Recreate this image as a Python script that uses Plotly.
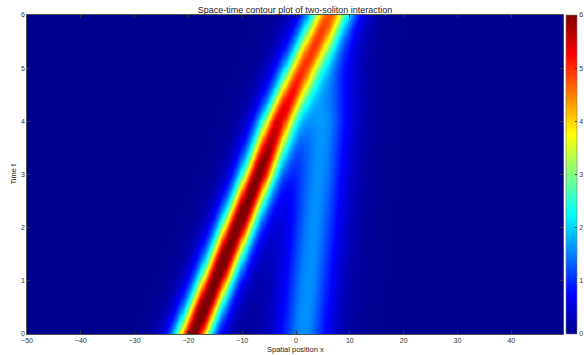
import numpy as np
import plotly.graph_objects as go

# Keyframes (time t -> soliton parameters)
t_key = [0, 1, 2, 3, 4, 5, 6]
big_center = [-19.2, -15.1, -11.1, -7.1, -3.4, 1.1, 6.0]
big_amp = [6.3, 6.3, 6.3, 6.1, 5.4, 4.6, 4.2]
big_k = [0.33, 0.33, 0.33, 0.33, 0.32, 0.30, 0.28]
small_center = [1.3, 2.25, 3.2, 4.15, 5.1, 6.05, 7.0]
small_amp = [1.6, 1.6, 1.6, 1.6, 1.55, 1.0, 0.6]
small_k = [0.22, 0.22, 0.22, 0.22, 0.22, 0.22, 0.22]

x_ticks = [-50, -40, -30, -20, -10, 0, 10, 20, 30, 40]
y_ticks = [0, 1, 2, 3, 4, 5, 6]
cbar_ticks = [0, 1, 2, 3, 4, 5, 6]

x = np.linspace(-50, 50 - 100 / 256, 256)
t = np.linspace(0, 6, 121)

def prof(keys):
    return np.interp(t, t_key, keys)[:, None]

u = (prof(big_amp) / np.cosh(prof(big_k) * (x[None, :] - prof(big_center))) ** 2
     + prof(small_amp) / np.cosh(prof(small_k) * (x[None, :] - prof(small_center))) ** 2)
u = np.clip(u, 0, 6)

jet = [
    [0.0, "rgb(0,0,143)"],
    [0.125, "rgb(0,0,255)"],
    [0.375, "rgb(0,255,255)"],
    [0.625, "rgb(255,255,0)"],
    [0.875, "rgb(255,0,0)"],
    [1.0, "rgb(128,0,0)"],
]

W, H = 584, 355
L, R, T, B = 27, 21, 15, 21
pw, ph = W - L - R, H - T - B
font = "Liberation Sans"

fig = go.Figure(
    go.Heatmap(
        z=u, x=x, y=t, colorscale=jet, zmin=0, zmax=6, zsmooth="best",
        hoverinfo="skip",
        colorbar=dict(
            x=(566 - L) / pw, xanchor="left", xpad=0, ypad=0,
            y=0.5, yanchor="middle", len=1, lenmode="fraction",
            thickness=11, outlinewidth=0.6, outlinecolor="#777",
            tickvals=cbar_ticks, ticks="inside", ticklen=2, tickcolor="#333",
            tickfont=dict(size=7, color="#333", family=font),
        ),
    )
)

axis_common = dict(
    ticks="inside", ticklen=3, tickwidth=0.6, tickcolor="#333",
    showline=True, linewidth=0.6, linecolor="#555", mirror="ticks",
    showgrid=False, zeroline=False, automargin=False,
    tickfont=dict(size=7, color="#333", family=font),
)

fig.update_layout(
    width=W, height=H,
    margin=dict(l=L, r=R, t=T, b=B, autoexpand=False),
    paper_bgcolor="white", plot_bgcolor="white",
    title=dict(
        text="Space-time contour plot of two-soliton interaction",
        x=0.5, xref="paper", y=1 - 9.5 / H, yref="container", yanchor="middle",
        font=dict(size=9, color="#222", family=font),
    ),
    xaxis=dict(range=[-50, 50 - 100 / 256], tickvals=x_ticks, **axis_common),
    yaxis=dict(range=[0, 6], tickvals=y_ticks, **axis_common),
    annotations=[
        dict(text="Spatial position x", xref="paper", yref="paper",
             x=0.5, y=-(349 - (H - B)) / ph, xanchor="center", yanchor="middle",
             showarrow=False, font=dict(size=7.5, color="#222", family=font)),
        dict(text="Time t", xref="paper", yref="paper", textangle=-90,
             x=(13 - L) / pw, y=0.5, xanchor="center", yanchor="middle",
             showarrow=False, font=dict(size=7.5, color="#222", family=font)),
    ],
)

fig.write_html("out.html", config={"displayModeBar": False},
               post_script="document.body.style.margin='0';")
